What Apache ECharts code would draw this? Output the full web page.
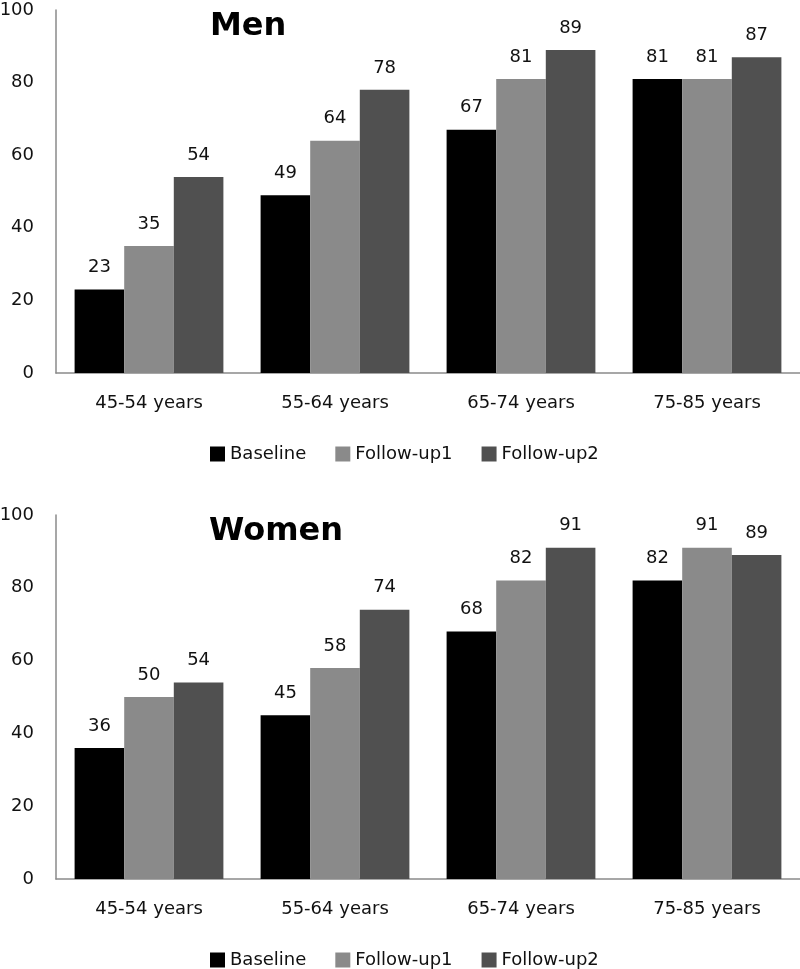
<!DOCTYPE html>
<html>
<head>
<meta charset="utf-8">
<script src="https://cdn.jsdelivr.net/npm/echarts@6/dist/echarts.min.js"></script>
<style>html,body{margin:0;padding:0;background:#fff}#c{width:800px;height:969px}</style>
</head>
<body>
<div id="c"></div>
<script>
const categories = ['45-54 years', '55-64 years', '65-74 years', '75-85 years'];
const seriesNames = ['Baseline', 'Follow-up1', 'Follow-up2'];
const menBaseline = [23, 49, 67, 81];
const menFollowup1 = [35, 64, 81, 81];
const menFollowup2 = [54, 78, 89, 87];
const womenBaseline = [36, 45, 68, 82];
const womenFollowup1 = [50, 58, 82, 91];
const womenFollowup2 = [54, 74, 91, 89];
const yTicks = [0, 20, 40, 60, 80, 100];

const colors = ['#000000', '#8a8a8a', '#505050'];
const font = '"DejaVu Sans", sans-serif';
const txt = '#111';

const chart = echarts.init(document.getElementById('c'));

function xAxis(gi) {
  return {
    type: 'category', gridIndex: gi, data: categories,
    axisLine: { lineStyle: { color: '#8a8a8a', width: 1.5 } },
    axisTick: { show: false },
    axisLabel: { color: txt, fontSize: 18, fontFamily: font, margin: 21 }
  };
}
function yAxis(gi) {
  return {
    type: 'value', gridIndex: gi, min: yTicks[0], max: yTicks[yTicks.length - 1], interval: 20,
    axisLine: { show: true, lineStyle: { color: '#8a8a8a', width: 1.5 } },
    axisTick: { show: false },
    splitLine: { show: false },
    axisLabel: { color: txt, fontSize: 18, fontFamily: font, margin: 22 }
  };
}
function bar(name, data, gi, ci) {
  return {
    name: name, type: 'bar', xAxisIndex: gi, yAxisIndex: gi, data: data,
    barGap: '0%', barCategoryGap: '20%',
    itemStyle: { color: colors[ci] },
    label: { show: true, position: 'top', distance: 13, color: txt, fontSize: 18, fontFamily: font }
  };
}
function legend(top) {
  return {
    data: seriesNames, top: top, left: 210, itemWidth: 15, itemHeight: 15, itemGap: 29,
    padding: 0, itemStyle: { borderWidth: 0 },
    icon: 'rect', textStyle: { color: txt, fontSize: 18, fontFamily: font }
  };
}

chart.setOption({
  animation: false,
  title: [
    { text: 'Men', left: 205, top: 6, textStyle: { fontSize: 32, fontWeight: 'bold', color: '#000', fontFamily: font } },
    { text: 'Women', left: 204, top: 511, textStyle: { fontSize: 32, fontWeight: 'bold', color: '#000', fontFamily: font } }
  ],
  legend: [legend(445), legend(951)],
  grid: [
    { left: 56, right: 0, top: 10, height: 363, containLabel: false, outerBoundsMode: 'none' },
    { left: 56, right: 0, top: 515, height: 364, containLabel: false, outerBoundsMode: 'none' }
  ],
  xAxis: [xAxis(0), xAxis(1)],
  yAxis: [yAxis(0), yAxis(1)],
  series: [
    bar(seriesNames[0], menBaseline, 0, 0),
    bar(seriesNames[1], menFollowup1, 0, 1),
    bar(seriesNames[2], menFollowup2, 0, 2),
    bar(seriesNames[0], womenBaseline, 1, 0),
    bar(seriesNames[1], womenFollowup1, 1, 1),
    bar(seriesNames[2], womenFollowup2, 1, 2)
  ]
});
</script>
</body>
</html>
